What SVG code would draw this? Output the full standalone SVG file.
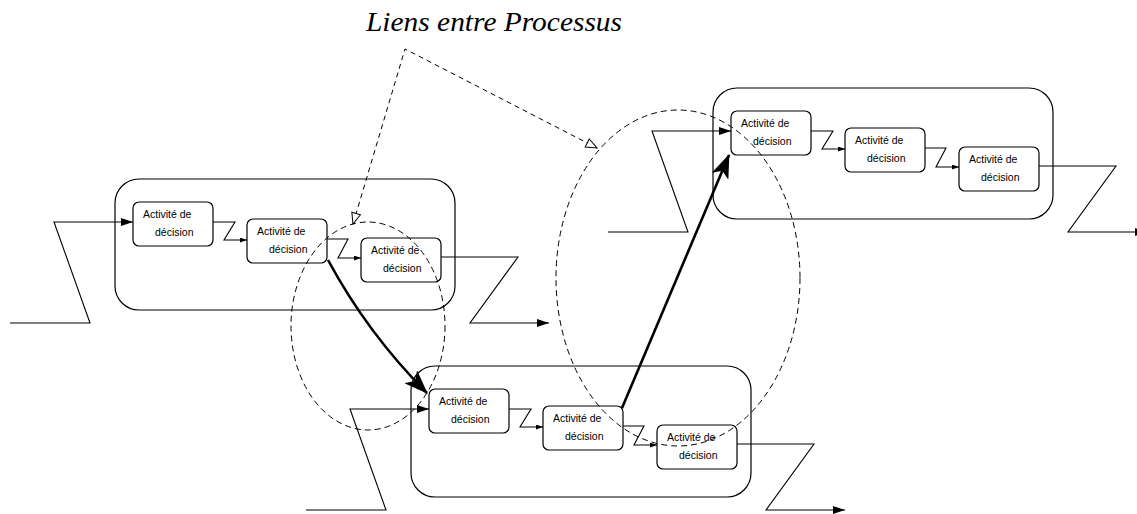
<svg xmlns="http://www.w3.org/2000/svg" width="1137" height="514" viewBox="0 0 1137 514">
<style>
.cont{fill:none;stroke:#000;stroke-width:1.2}
.box{fill:#fff;stroke:#000;stroke-width:1.2}
.ln{fill:none;stroke:#000;stroke-width:1.1}
.dash{fill:none;stroke:#000;stroke-width:1;stroke-dasharray:6,4}
.thick{fill:none;stroke:#000;stroke-width:2.6}
.lbl{font-family:"Liberation Sans",Arial,sans-serif;font-size:10.5px;fill:#000}
.title{font-family:"Liberation Serif","Times New Roman",serif;font-style:italic;font-size:27px;fill:#000}
</style>
<defs>
<marker id="big" markerUnits="userSpaceOnUse" viewBox="0 0 12 8" refX="12" refY="4" markerWidth="12" markerHeight="8" orient="auto"><path d="M0,0 L12,4 L0,8 z" fill="#000"/></marker>
<marker id="small" markerUnits="userSpaceOnUse" viewBox="0 0 7 5" refX="7" refY="2.5" markerWidth="7" markerHeight="5" orient="auto"><path d="M0,0 L7,2.5 L0,5 z" fill="#000"/></marker>
<marker id="head" markerUnits="userSpaceOnUse" viewBox="0 0 24 18" refX="23" refY="9" markerWidth="24" markerHeight="18" orient="auto"><path d="M0,0 L24,9 L0,18 L6,9 z" fill="#000"/></marker>
<marker id="open" markerUnits="userSpaceOnUse" viewBox="-1 -1 13 11" refX="11" refY="4.5" markerWidth="13" markerHeight="11" orient="auto-start-reverse"><path d="M0,0 L11,4.5 L0,9 z" fill="#fff" stroke="#000" stroke-width="1"/></marker>
<g id="proc">
<rect class="cont" x="0" y="0" width="340" height="131" rx="24"/>
<path class="ln" d="M-105,144 H-25 L-61,43 H18" marker-end="url(#big)"/>
<path class="ln" d="M98,43 H120 L109,61 H132" marker-end="url(#small)"/>
<path class="ln" d="M212,60 H233 L223,79 H246" marker-end="url(#small)"/>
<path class="ln" d="M326,78 H403 L355,144 H434" marker-end="url(#big)"/>
<rect class="box" x="18" y="23" width="80" height="44" rx="6"/>
<text class="lbl" x="28" y="39">Activité de</text>
<text class="lbl" x="40" y="57">décision</text>
<rect class="box" x="132" y="40" width="80" height="44" rx="6"/>
<text class="lbl" x="142" y="56">Activité de</text>
<text class="lbl" x="154" y="74">décision</text>
<rect class="box" x="246" y="59" width="80" height="44" rx="6"/>
<text class="lbl" x="256" y="75">Activité de</text>
<text class="lbl" x="268" y="93">décision</text>
</g>
</defs>
<text class="title" x="366" y="31" textLength="256" lengthAdjust="spacingAndGlyphs">Liens entre Processus</text>
<g id="processus1"><use href="#proc" x="115" y="179"/></g>
<g id="processus2"><use href="#proc" x="411" y="366"/></g>
<g id="processus3"><use href="#proc" x="713" y="88"/></g>
<g id="liens">
<ellipse class="dash" cx="368" cy="326" rx="77" ry="104"/>
<ellipse class="dash" cx="678" cy="278" rx="122" ry="168"/>
<path class="dash" style="stroke-dasharray:5,4" d="M353,224 L405,49 L597,148" marker-start="url(#open)" marker-end="url(#open)"/>
<path class="thick" d="M328,260 Q368,334 427,393" marker-end="url(#head)"/>
<path class="thick" d="M622,408 L729,155" marker-end="url(#head)"/>
</g>
</svg>
